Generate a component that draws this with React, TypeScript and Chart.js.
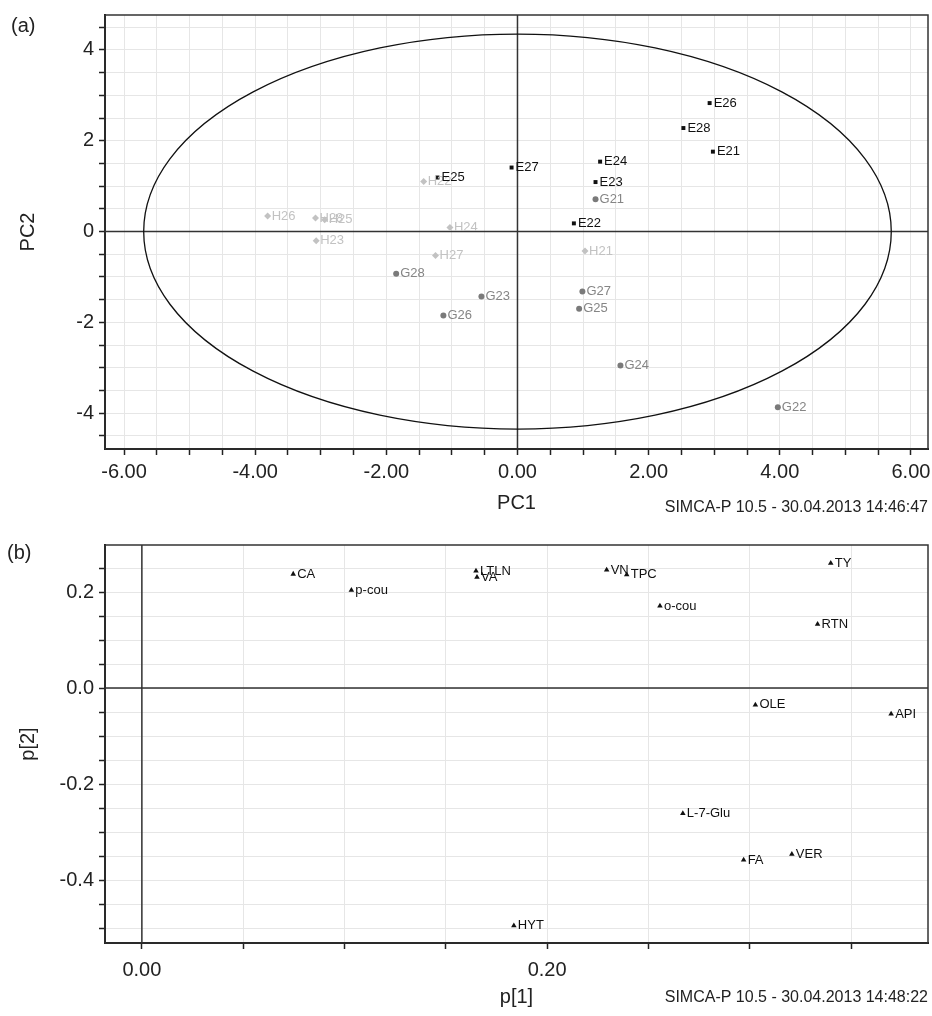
import { useEffect, useRef } from "react";
import { Chart, registerables } from "chart.js";

Chart.register(...registerables);

const FONT = '"Liberation Sans", Arial, Helvetica, sans-serif';

// (a) scores plot, PC1 vs PC2
const eNames = ["E21", "E22", "E23", "E24", "E25", "E26", "E27", "E28"];
const eX = [2.98, 0.86, 1.19, 1.26, -1.22, 2.93, -0.09, 2.53];
const eY = [1.76, 0.18, 1.09, 1.54, 1.19, 2.83, 1.41, 2.28];

const gNames = ["G21", "G22", "G23", "G24", "G25", "G26", "G27", "G28"];
const gX = [1.19, 3.97, -0.55, 1.57, 0.94, -1.13, 0.99, -1.85];
const gY = [0.71, -3.87, -1.43, -2.95, -1.7, -1.85, -1.32, -0.93];

const hNames = ["H21", "H22", "H23", "H24", "H25", "H26", "H27", "H28"];
const hX = [1.03, -1.43, -3.07, -1.03, -2.94, -3.81, -1.25, -3.08];
const hY = [-0.43, 1.1, -0.2, 0.09, 0.26, 0.34, -0.53, 0.3];

// Hotelling T2 ellipse half-axes
const ellipseA = 5.7;
const ellipseB = 4.35;

// (b) loadings plot, p[1] vs p[2]
const varNames = ["CA", "p-cou", "LTLN", "VA", "VN", "TPC", "o-cou", "TY", "RTN", "OLE", "API", "L-7-Glu", "FA", "VER", "HYT"];
const p1 = [0.0747, 0.1034, 0.1649, 0.1654, 0.2294, 0.2393, 0.2557, 0.34, 0.3335, 0.3028, 0.3698, 0.267, 0.297, 0.3208, 0.1836];
const p2 = [0.2375, 0.204, 0.244, 0.231, 0.246, 0.236, 0.171, 0.26, 0.133, -0.035, -0.054, -0.261, -0.358, -0.346, -0.495];

const stampA = "SIMCA-P 10.5 - 30.04.2013 14:46:47";
const stampB = "SIMCA-P 10.5 - 30.04.2013 14:48:22";

const isMult = (v: number, step: number) => Math.abs(v / step - Math.round(v / step)) < 1e-6;

const pts = (xs: number[], ys: number[]) => xs.map((x, i) => ({ x, y: ys[i] }));

// point labels to the right of each marker
const labelPlugin = {
  id: "pointLabels",
  afterDatasetsDraw(chart: any) {
    const ctx = chart.ctx;
    ctx.save();
    ctx.font = `13px ${FONT}`;
    ctx.textBaseline = "middle";
    ctx.textAlign = "left";
    chart.data.datasets.forEach((ds: any, i: number) => {
      if (!ds.names) return;
      ctx.fillStyle = ds.labelColor;
      chart.getDatasetMeta(i).data.forEach((el: any, j: number) => {
        ctx.fillText(ds.names[j], el.x + 4, el.y);
      });
    });
    ctx.restore();
  },
};

// zero cross lines and optional T2 ellipse
const originPlugin = {
  id: "origin",
  beforeDatasetsDraw(chart: any, _args: any, opts: any) {
    const { x, y } = chart.scales;
    const { left, top, right, bottom } = chart.chartArea;
    const cx = x.getPixelForValue(0);
    const cy = y.getPixelForValue(0);
    const ctx = chart.ctx;
    ctx.save();
    ctx.strokeStyle = "#333";
    ctx.lineWidth = 1.5;
    ctx.beginPath();
    ctx.moveTo(cx, top);
    ctx.lineTo(cx, bottom);
    ctx.moveTo(left, cy);
    ctx.lineTo(right, cy);
    ctx.stroke();
    if (opts && opts.ellipse) {
      const rx = x.getPixelForValue(ellipseA) - cx;
      const ry = cy - y.getPixelForValue(ellipseB);
      ctx.strokeStyle = "#111";
      ctx.lineWidth = 1.3;
      ctx.beginPath();
      ctx.ellipse(cx, cy, rx, ry, 0, 0, Math.PI * 2);
      ctx.stroke();
    }
    ctx.restore();
  },
};

const framePlugin = {
  id: "frame",
  afterDraw(chart: any, _args: any, opts: any) {
    const { left, top, right, bottom } = chart.chartArea;
    const ctx = chart.ctx;
    ctx.save();
    ctx.strokeStyle = "#333";
    ctx.lineWidth = 1.5;
    ctx.strokeRect(left, top, right - left, bottom - top);
    ctx.fillStyle = "#222";
    ctx.font = `20px ${FONT}`;
    ctx.textBaseline = "middle";
    ctx.textAlign = "left";
    ctx.fillText(opts.panel, opts.panelX, opts.panelY);
    ctx.font = `16px ${FONT}`;
    ctx.textAlign = "right";
    ctx.fillText(opts.stamp, right, opts.stampY);
    ctx.restore();
  },
};

function axis(opts: any) {
  return {
    type: "linear",
    min: opts.min,
    max: opts.max,
    afterFit: (s: any) => {
      opts.fit(s);
      s.paddingLeft = 0;
      s.paddingRight = 0;
      s.paddingTop = 0;
      s.paddingBottom = 0;
    },
    title: {
      display: true,
      text: opts.title,
      color: "#222",
      font: { family: FONT, size: 20 },
      padding: opts.titlePad,
    },
    border: { color: "#111", width: 2 },
    grid: {
      color: "#e6e6e6",
      lineWidth: 1,
      tickColor: "#222",
      tickLength: 6,
      tickWidth: 1.5,
    },
    ticks: {
      stepSize: opts.step,
      includeBounds: false,
      autoSkip: false,
      maxRotation: 0,
      padding: opts.tickPad,
      color: "#222",
      font: { family: FONT, size: 20 },
      callback: (v: any) => (isMult(Number(v), opts.labelStep) ? Number(v).toFixed(opts.digits) : ""),
    },
  };
}

function ScoresChart() {
  const ref = useRef<HTMLCanvasElement>(null);
  useEffect(() => {
    if (!ref.current) return;
    const chart = new Chart(ref.current, {
      type: "scatter",
      data: {
        datasets: [
          { data: pts(hX, hY), names: hNames, labelColor: "#c2c2c2", pointStyle: "rectRot", pointRadius: 3.5, backgroundColor: "#c2c2c2", borderWidth: 0 },
          { data: pts(gX, gY), names: gNames, labelColor: "#858585", pointStyle: "circle", pointRadius: 3, backgroundColor: "#7a7a7a", borderWidth: 0 },
          { data: pts(eX, eY), names: eNames, labelColor: "#111", pointStyle: "rect", pointRadius: 2.8, backgroundColor: "#111", borderWidth: 0 },
        ] as any,
      },
      options: {
        responsive: false,
        animation: false,
        layout: { padding: { top: 15, right: 2, bottom: 15, left: 0 } },
        plugins: {
          legend: { display: false },
          tooltip: { enabled: false },
          origin: { ellipse: true },
          frame: { panel: "(a)", panelX: 11, panelY: 26, stamp: stampA, stampY: 508 },
        } as any,
        scales: {
          x: axis({
            min: -6.29, max: 6.26, step: 0.5, labelStep: 2, digits: 2, title: "PC1",
            titlePad: { top: 0, bottom: 0 }, tickPad: 5,
            fit: (s: any) => { s.height = 66; },
          }),
          y: axis({
            min: -4.79, max: 4.77, step: 0.5, labelStep: 2, digits: 0, title: "PC2",
            titlePad: { top: 16, bottom: 0 }, tickPad: 5,
            fit: (s: any) => { s.width = 105; },
          }),
        } as any,
      },
      plugins: [originPlugin, labelPlugin, framePlugin],
    });
    return () => chart.destroy();
  }, []);
  return <canvas ref={ref} width={932} height={530} style={{ display: "block" }} />;
}

function LoadingsChart() {
  const ref = useRef<HTMLCanvasElement>(null);
  useEffect(() => {
    if (!ref.current) return;
    const chart = new Chart(ref.current, {
      type: "scatter",
      data: {
        datasets: [
          { data: pts(p1, p2), names: varNames, labelColor: "#111", pointStyle: "triangle", pointRadius: 3.2, backgroundColor: "#111", borderWidth: 0 },
        ] as any,
      },
      options: {
        responsive: false,
        animation: false,
        layout: { padding: { top: 15, right: 3, bottom: 7, left: 0 } },
        plugins: {
          legend: { display: false },
          tooltip: { enabled: false },
          origin: { ellipse: false },
          frame: { panel: "(b)", panelX: 7, panelY: 23, stamp: stampB, stampY: 468 },
        } as any,
        scales: {
          x: axis({
            min: -0.0182, max: 0.388, step: 0.05, labelStep: 0.2, digits: 2, title: "p[1]",
            titlePad: { top: 0, bottom: 0 }, tickPad: 9,
            fit: (s: any) => { s.height = 66; },
          }),
          y: axis({
            min: -0.531, max: 0.298, step: 0.05, labelStep: 0.2, digits: 1, title: "p[2]",
            titlePad: { top: 16, bottom: 0 }, tickPad: 5,
            fit: (s: any) => { s.width = 105; },
          }),
        } as any,
      },
      plugins: [originPlugin, labelPlugin, framePlugin],
    });
    return () => chart.destroy();
  }, []);
  return <canvas ref={ref} width={932} height={486} style={{ display: "block" }} />;
}

export default function App() {
  return (
    <div style={{ position: "absolute", left: 0, top: 0, width: 932, height: 1016, background: "#fff" }}>
      <ScoresChart />
      <LoadingsChart />
    </div>
  );
}
